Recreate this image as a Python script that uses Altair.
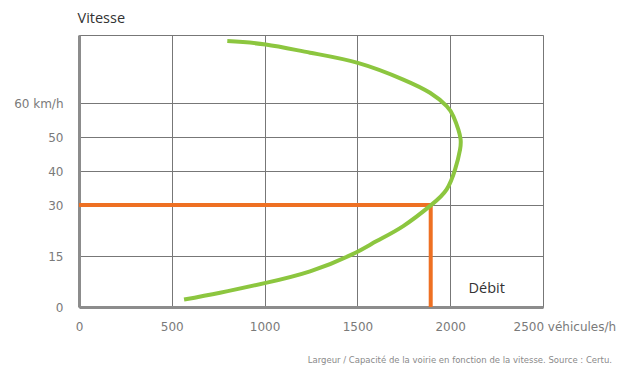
import altair as alt
import pandas as pd

# Speed/flow curve (débit in véhicules/h, vitesse in km/h), ordered along the curve
curve_flow = [799, 1006, 1245, 1502, 1747, 1891, 1981, 2017, 2044, 2056, 2053, 2026, 1981, 1900, 1747, 1604, 1469, 1245, 1006, 760, 566]
curve_speed = [78.2, 77.2, 74.8, 71.8, 66.9, 63.0, 59.1, 56.1, 52.2, 49.3, 46.3, 40.4, 34.6, 30.1, 23.8, 19.4, 15.4, 10.5, 7.1, 4.2, 2.2]

# Orange reading guide: 30 km/h -> ~1895 véhicules/h
guide_flow = [0, 1895, 1895]
guide_speed = [30, 30, 0]

x_ticks = [0, 500, 1000, 1500, 2000, 2500]
y_ticks = [0, 15, 30, 40, 50, 60, 80]

curve = pd.DataFrame({"debit": curve_flow, "vitesse": curve_speed, "o": list(range(len(curve_flow)))})
guide = pd.DataFrame({"debit": guide_flow, "vitesse": guide_speed, "o": list(range(len(guide_flow)))})

FONT = "DejaVu Sans"
TFONT = "Open Sans"

x_enc = alt.X(
    "debit:Q",
    scale=alt.Scale(domain=[0, 2500], nice=False, zero=True),
    axis=alt.Axis(
        values=x_ticks,
        title="Débit",
        titleFont=TFONT, titleFontSize=14.5, titleFontWeight="normal", titleColor="#333333",
        titleAngle=0, titleAlign="left", titleBaseline="middle", titleX=389, titleY=-19,
        labelFont=FONT, labelFontSize=12, labelColor="#7a7a7a", labelPadding=14,
        labelExpr="datum.value == 2500 ? '2500 véhicules/h' : datum.label",
        labelAlign={"condition": {"test": "datum.value == 2500", "value": "left"}, "value": "center"},
        labelOffset={"condition": {"test": "datum.value == 2500", "value": -30}, "value": 0},
        labelBound=False, labelOverlap=False, labelFlush=False,
        format="d",
        ticks=False, grid=True, gridColor="#777777", gridWidth=1,
        domainColor="#8c8c8c", domainWidth=3,
    ),
)

y_enc = alt.Y(
    "vitesse:Q",
    scale=alt.Scale(domain=[0, 80], nice=False, zero=True),
    axis=alt.Axis(
        values=y_ticks,
        title="Vitesse",
        titleFont=TFONT, titleFontSize=14.5, titleFontWeight="normal", titleColor="#333333",
        titleAngle=0, titleAlign="left", titleBaseline="middle", titleX=-2, titleY=-17,
        labelFont=FONT, labelFontSize=12, labelColor="#7a7a7a", labelPadding=16,
        labelExpr="datum.value == 80 ? '' : (datum.value == 60 ? '60 km/h' : datum.label)",
        labelOverlap=False,
        ticks=False, grid=True, gridColor="#777777", gridWidth=1,
        domainColor="#8c8c8c", domainWidth=3,
    ),
)

green = alt.Chart(curve).mark_line(
    color="#8cc63f", strokeWidth=4, interpolate="natural", strokeCap="butt"
).encode(x=x_enc, y=y_enc, order="o:Q")

orange = alt.Chart(guide).mark_line(
    color="#ee7023", strokeWidth=4, strokeJoin="miter"
).encode(x="debit:Q", y="vitesse:Q", order="o:Q")

chart = alt.layer(orange, green).properties(
    width=464,
    height=272,
    autosize=alt.AutoSizeParams(type="none"),
    padding={"left": 71, "top": 27, "right": 77, "bottom": 59},
    title=alt.TitleParams(
        "Largeur / Capacité de la voirie en fonction de la vitesse. Source : Certu.",
        orient="bottom", anchor="end", frame="group",
        font=FONT, fontSize=8.5, fontWeight="normal", color="#8a8a8a",
        dx=69, offset=24,
    ),
).configure_view(stroke=None).configure(background="white")

chart.save("out.html", embed_options={"renderer": "svg", "actions": False})
